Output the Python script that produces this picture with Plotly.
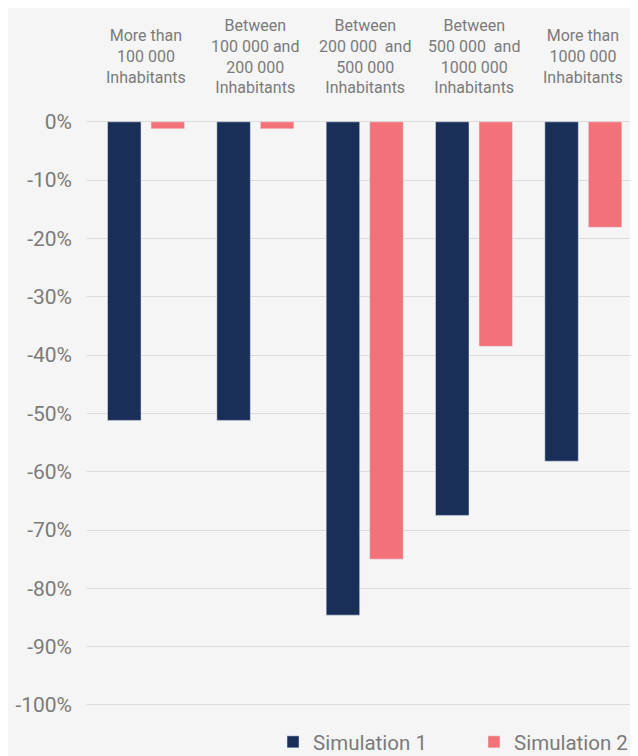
import plotly.graph_objects as go

categories = ["More than<br>100 000<br>Inhabitants",
              "Between<br>100 000 and<br>200 000<br>Inhabitants",
              "Between<br>200 000  and<br>500 000<br>Inhabitants",
              "Between<br>500 000  and<br>1000 000<br>Inhabitants",
              "More than<br>1000 000<br>Inhabitants"]
sim1 = [-51.2, -51.2, -84.6, -67.5, -58.2]
sim2 = [-1.2, -1.2, -75.0, -38.5, -18.1]
yticks = list(range(0, -101, -10))
yticklabels = [f"{v}%" for v in yticks]

navy = "#1a2f58"
salmon = "#f37178"
grey = "#7b7b7b"
bg = "#f5f5f5"

x = list(range(len(categories)))
fig = go.Figure()
fig.add_trace(go.Bar(x=x, y=sim1, name="Simulation 1", marker_color=navy, legend="legend"))
fig.add_trace(go.Bar(x=x, y=sim2, name="Simulation 2", marker_color=salmon, legend="legend2"))

for i, c in enumerate(categories):
    fig.add_annotation(x=i, y=1, xref="x", yref="paper", yshift=60,
                       text=c, showarrow=False, yanchor="middle",
                       font=dict(family="Roboto", size=16, color=grey))

legend_common = dict(orientation="h", xref="paper", xanchor="left",
                     yref="container", y=0.0187, yanchor="middle",
                     font=dict(size=20.5, color=grey),
                     bgcolor="rgba(0,0,0,0)", borderwidth=0)

fig.update_layout(
    width=630, height=748,
    paper_bgcolor=bg, plot_bgcolor=bg,
    margin=dict(l=79, r=0, t=108, b=24),
    barmode="group", bargap=0.204, bargroupgap=0.23,
    font=dict(family="Roboto", color=grey),
    showlegend=True,
    legend=dict(x=0.3376, **legend_common),
    legend2=dict(x=0.7187, entrywidth=119, entrywidthmode="pixels", **legend_common),
    xaxis=dict(range=[-0.54, 4.5], showticklabels=False, showgrid=False, zeroline=False,
               ticks=""),
    yaxis=dict(range=[-102.93, 1], tickvals=yticks, ticktext=yticklabels,
               showgrid=True, gridcolor="#dcdcdc", gridwidth=1,
               zeroline=True, zerolinecolor="#dcdcdc", zerolinewidth=1,
               ticks="", ticklabelstandoff=14,
               tickfont=dict(family="Roboto", size=21, color=grey)),
)

fig.write_html("out.html")
